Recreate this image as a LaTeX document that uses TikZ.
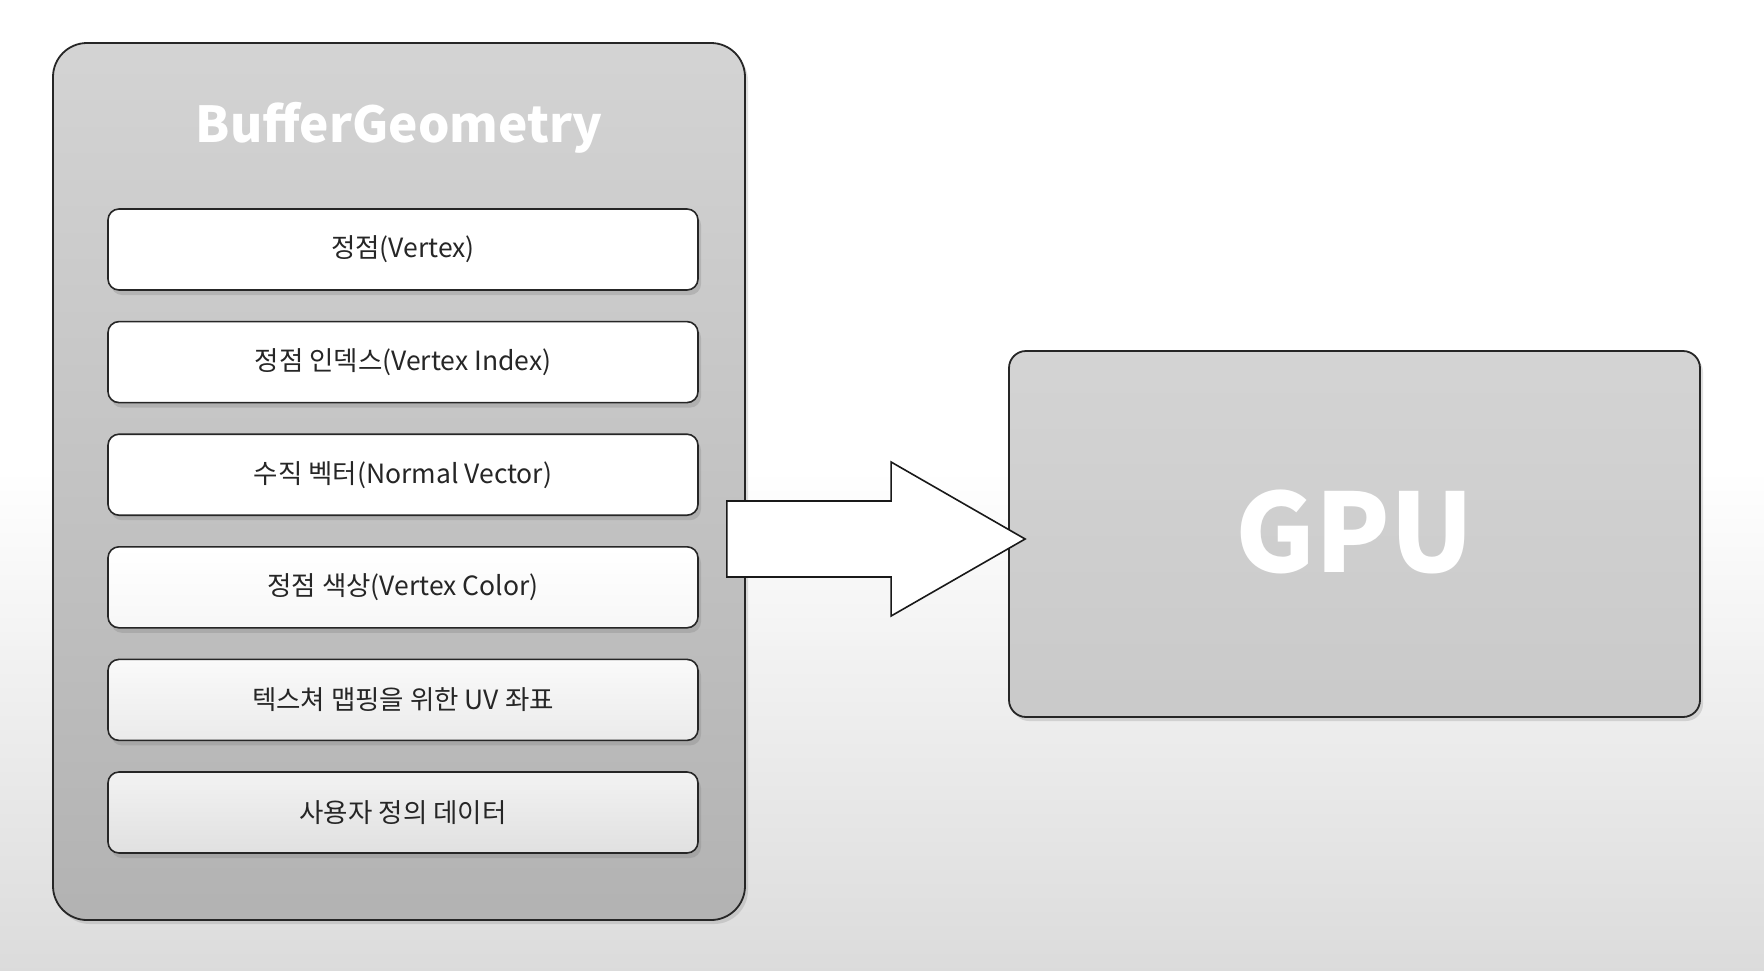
\documentclass[tikz,border=0pt]{standalone}
\usepackage{fontspec}
\setmainfont{Noto Sans CJK KR}
\usetikzlibrary{positioning,shadows,calc}

\begin{document}
\begin{tikzpicture}[
    x=1pt, y=1pt,
    every node/.style={
        align=center,
        inner sep=0pt,
        text=black!85
    },
    panel/.style={
        draw=black!85,
        line width=1.8pt,
        rounded corners=34pt,
        top color=black!17,
        bottom color=black!30,
        drop shadow={shadow xshift=3pt, shadow yshift=-4pt, opacity=0.25}
    },
    field/.style={
        draw=black!85,
        line width=1.6pt,
        rounded corners=11pt,
        minimum width=590pt,
        minimum height=81pt,
        top color=white,
        bottom color=white,
        font=\fontsize{26.5}{30}\selectfont,
        drop shadow={shadow xshift=3pt, shadow yshift=-5pt, opacity=0.3}
    },
    title/.style={
        text=white,
        font=\fontsize{49.5}{58}\selectfont\bfseries
    },
    blockarrow/.style={draw=black!90, line width=1.6pt, fill=white, line join=miter}
]

\useasboundingbox (0,0) rectangle (1764,-970);

% Background
\fill[white] (0,0) rectangle (1764,-970);
\shade[top color=white, bottom color=black!14] (0,-470) rectangle (1764,-970);

% Nodes
\node[panel, minimum width=692pt, minimum height=877pt] (buffer) at (399,-481.5) {};
\node[title] (name) at ([yshift=-86pt]buffer.north) {BufferGeometry};

\node[field] (vertex) at (403,-249.5) {정점(Vertex)};
\node[field, below=30pt of vertex] (index) {정점 인덱스(Vertex Index)};
\node[field, below=30pt of index] (normal) {수직 벡터(Normal Vector)};
\node[field, below=30pt of normal, bottom color=black!3] (color) {정점 색상(Vertex Color)};
\node[field, below=30pt of color, top color=black!2, bottom color=black!8] (uv) {텍스쳐 맵핑을 위한 UV 좌표};
\node[field, below=30pt of uv, top color=black!5, bottom color=black!12] (custom) {사용자 정의 데이터};

% GPU
\node[panel, rounded corners=17pt, top color=black!17, bottom color=black!21,
      minimum width=691pt, minimum height=366pt] (gpu) at (1354.5,-534) {};
\node[title, font=\fontsize{109}{120}\selectfont\bfseries] (gpuname) at ([yshift=2pt]gpu.center) {GPU};

% Block arrow (buffer -> gpu)
\coordinate (tail) at ([xshift=-19pt, yshift=-5pt]buffer.east |- gpu.west);
\coordinate (tip) at ([xshift=17pt, yshift=-5pt]gpu.west);
\draw[blockarrow] ($(tail)+(0,38)$) -- ($(tip)+(-134,38)$)
    -- ($(tip)+(-134,77)$)
    -- (tip)
    -- ($(tip)+(-134,-77)$)
    -- ($(tip)+(-134,-38)$)
    -- ($(tail)+(0,-38)$) -- cycle;

\end{tikzpicture}
\end{document}
